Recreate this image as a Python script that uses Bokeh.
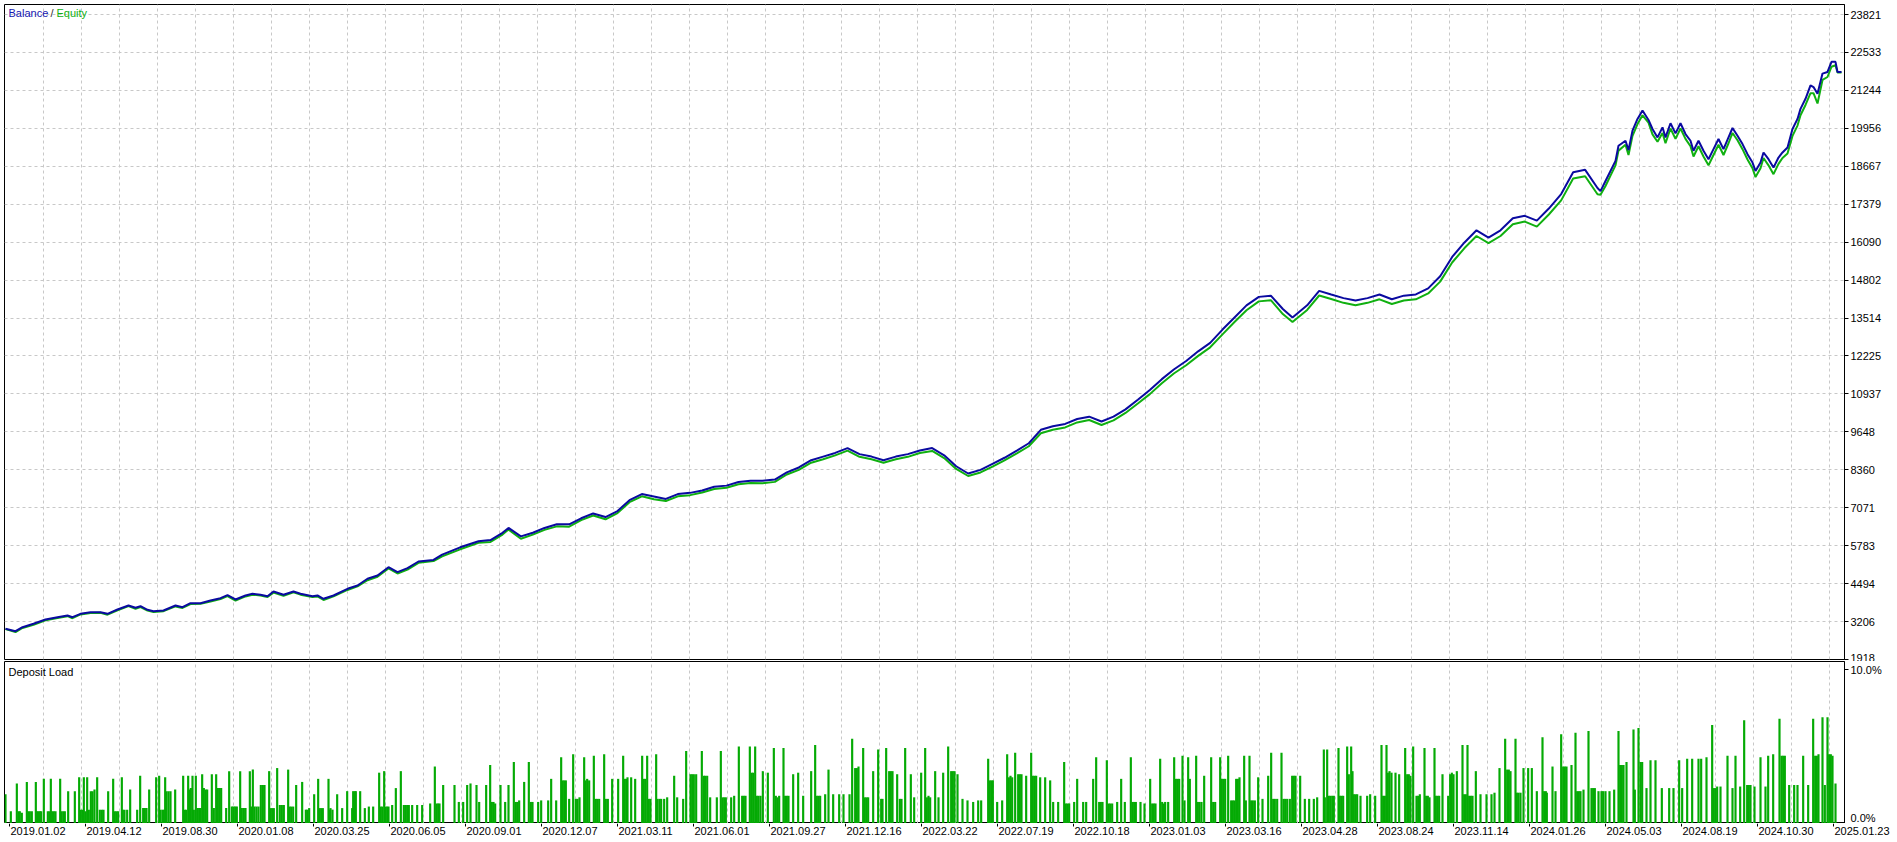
from bokeh.plotting import figure
from bokeh.models import Range1d, FixedTicker, Label
from bokeh.layouts import column
from bokeh.embed import file_html
from bokeh.resources import INLINE
from bokeh.core.properties import value

FONT = "Liberation Sans"

# ---------------- data ----------------
y_ticks = [1918, 3206, 4494, 5783, 7071, 8360, 9648, 10937, 12225, 13514,
           14802, 16090, 17379, 18667, 19956, 21244, 22533, 23821]

date_labels = ["2019.01.02", "2019.04.12", "2019.08.30", "2020.01.08", "2020.03.25",
               "2020.06.05", "2020.09.01", "2020.12.07", "2021.03.11", "2021.06.01",
               "2021.09.27", "2021.12.16", "2022.03.22", "2022.07.19", "2022.10.18",
               "2023.01.03", "2023.03.16", "2023.04.28", "2023.08.24", "2023.11.14",
               "2024.01.26", "2024.05.03", "2024.08.19", "2024.10.30", "2025.01.23"]

deal = [0, 30, 51, 84, 120, 156, 186, 201, 225, 255, 285, 306, 336, 369, 390, 405, 426, 444, 474, 510,
        531, 555, 585, 615, 645, 666, 690, 720, 741, 765, 786, 804, 834, 864, 885, 921, 936, 954, 984, 1026,
        1056, 1086, 1116, 1149, 1176, 1206, 1239, 1284,
        1310, 1364, 1419, 1455, 1491, 1509, 1546, 1582, 1617, 1654,
        1691, 1727, 1763, 1800, 1836, 1872, 1909, 1945, 1981, 2017,
        2054, 2090, 2126, 2163, 2199, 2235, 2271, 2308, 2344, 2380,
        2417, 2453, 2489, 2526, 2562, 2598, 2634, 2671, 2707, 2743,
        2780, 2816, 2852, 2888, 2925, 2961, 2997, 3034, 3070, 3106,
        3142, 3179, 3215, 3251, 3288, 3324, 3360, 3397, 3433, 3469,
        3505, 3542, 3578, 3614, 3651, 3687, 3723, 3760, 3796, 3832,
        3861, 3905, 3941, 3977, 4014, 4050, 4086, 4122, 4159, 4195,
        4231, 4268, 4304, 4340, 4377, 4413, 4449, 4485, 4522, 4558,
        4594, 4630, 4667, 4703, 4739, 4776,
        4785, 4800, 4815, 4830, 4839, 4860, 4869, 4881, 4896, 4911, 4929, 4941, 4956, 4971, 4980, 4995,
        5010, 5025, 5040, 5055, 5064, 5079, 5094, 5109, 5124, 5139, 5154, 5169, 5181, 5196, 5211, 5226,
        5241, 5250, 5265, 5274, 5289, 5304, 5319, 5331, 5346, 5361, 5376, 5385, 5400, 5415, 5424, 5436,
        5451, 5466, 5478, 5490, 5496, 5508]

balance = [2960, 2880, 3015, 3130, 3277, 3355, 3412, 3355, 3470, 3525, 3525, 3470, 3616, 3752, 3673, 3728,
           3605, 3558, 3582, 3752, 3694, 3830, 3830, 3922, 4000, 4102, 3956, 4092, 4150, 4115, 4068, 4227,
           4115, 4227, 4150, 4068, 4092, 3979, 4092, 4319, 4431, 4659, 4771, 5053, 4883, 5019, 5246, 5300,
           5479, 5728, 5934, 5975, 6221, 6386, 6098, 6221, 6386, 6509,
           6509, 6714, 6879, 6755, 6960, 7330, 7536, 7454, 7371, 7536,
           7577, 7659, 7782, 7823, 7947, 7988, 7988, 8029, 8275, 8440,
           8686, 8809, 8933, 9097, 8892, 8809, 8686, 8809, 8892, 9015,
           9097, 8851, 8481, 8234, 8358, 8563, 8769, 9015, 9262, 9718,
           9841, 9919, 10084, 10165, 10001, 10165, 10412, 10740, 11069, 11439,
           11768, 12055, 12384, 12671, 13123, 13534, 13945, 14233, 14274, 13822,
           13534, 13945, 14438, 14315, 14191, 14109, 14191, 14315, 14151, 14274,
           14315, 14520, 14931, 15589, 16082, 16493, 16246, 16493, 16904, 16986,
           16821, 17232, 17725, 18465, 18547, 17931,
           17825, 18167, 18509, 18851, 19364, 19535, 19215, 19877, 20276, 20561, 20242, 19934, 19649, 19991,
           19649, 20128, 19786, 20128, 19763, 19535, 19193, 19535, 19193, 18908, 19250, 19592, 19250, 19649,
           19968, 19706, 19421, 19079, 18794, 18509, 18794, 19136, 18908, 18623, 18965, 19136, 19307, 19934,
           20276, 20618, 20960, 21416, 21359, 21131, 21815, 21872, 22214, 22214, 21872, 21872]

equity = [2950, 2850, 2990, 3100, 3250, 3330, 3390, 3320, 3450, 3500, 3505, 3440, 3590, 3730, 3640, 3700,
          3580, 3530, 3560, 3720, 3670, 3800, 3810, 3890, 3970, 4070, 3920, 4060, 4120, 4090, 4040, 4190,
          4080, 4200, 4120, 4040, 4060, 3940, 4060, 4280, 4400, 4610, 4730, 5010, 4840, 4970, 5200, 5260,
          5420, 5660, 5880, 5910, 6160, 6330, 6020, 6160, 6320, 6440,
          6430, 6650, 6810, 6680, 6890, 7260, 7460, 7360, 7300, 7460,
          7500, 7590, 7710, 7750, 7870, 7910, 7900, 7950, 8200, 8360,
          8600, 8720, 8850, 9010, 8800, 8720, 8600, 8720, 8800, 8930,
          9000, 8760, 8390, 8150, 8270, 8470, 8680, 8920, 9160, 9600,
          9720, 9800, 9970, 10050, 9880, 10040, 10290, 10610, 10930, 11300,
          11630, 11910, 12230, 12520, 12960, 13380, 13780, 14080, 14120, 13650,
          13380, 13790, 14280, 14160, 14030, 13950, 14030, 14150, 13990, 14110,
          14150, 14350, 14750, 15400, 15890, 16300, 16060, 16300, 16700, 16790,
          16620, 17030, 17510, 18250, 18330, 17720,
          17700, 18000, 18350, 18700, 19200, 19400, 19050, 19700, 20100, 20400, 20150, 19750, 19500, 19800,
          19450, 19950, 19600, 19950, 19600, 19350, 19000, 19350, 19000, 18700, 19050, 19400, 19050, 19450,
          19800, 19550, 19250, 18900, 18600, 18300, 18600, 18950, 18700, 18400, 18750, 18950, 19100, 19700,
          20050, 20400, 20750, 21150, 21150, 20800, 21600, 21700, 22050, 22100, 21850, 21850]

load_deal = [0, 16, 34, 39, 43, 49, 64, 68, 73, 79, 91, 95, 99, 103, 107, 115, 127, 132, 136, 140, 145, 150,
             164, 167, 173, 178, 188, 208, 221, 225, 230, 235, 240, 245, 250, 256, 261, 267, 275, 283, 289,
             294, 308, 323, 328, 333, 338, 349, 352, 357, 365, 374, 395, 404, 413, 418, 423, 431, 452, 461,
             465, 471, 475, 479, 483, 489, 495, 509, 533, 538, 542, 548, 552, 556, 561, 565, 571, 576, 581,
             585, 590, 595, 600, 605, 619, 625, 632, 637, 642, 647, 662, 671, 679, 684, 689, 694, 704, 709,
             715, 720, 733, 737, 742, 747, 753, 759, 766, 772, 777, 791, 795, 800, 805, 815, 823, 829, 835,
             848, 852, 857, 863, 872, 890, 901, 906, 911, 926, 938, 942, 947, 952, 969, 971, 975, 981, 995,
             1010, 1025, 1040, 1043, 1048, 1051, 1064, 1078, 1090, 1103, 1121, 1125, 1130, 1136, 1140, 1145,
             1149, 1160, 1171, 1186, 1195, 1200, 1205, 1210, 1220, 1235, 1250, 1274, 1288, 1293, 1298, 1302,
             1313, 1347, 1360,
             1373, 1385, 1395, 1413, 1421, 1442, 1454, 1459, 1464, 1469, 1485, 1499, 1509, 1525, 1531, 1536,
             1541, 1556, 1570, 1576, 1581, 1598, 1607, 1628, 1637, 1652, 1667, 1671, 1676, 1681, 1691, 1703,
             1711, 1716, 1722, 1736, 1740, 1745, 1751, 1765, 1770, 1775, 1781, 1796, 1801, 1807, 1820, 1838,
             1853, 1857, 1862, 1866, 1877, 1889, 1910, 1914, 1919, 1925, 1930, 1935, 1952, 1956, 1962, 1967,
             1976, 1985, 2006, 2015, 2033, 2042, 2055, 2060, 2065, 2072, 2089, 2095, 2099, 2105, 2114, 2134,
             2146, 2151, 2156, 2161, 2177, 2186, 2200, 2210, 2215, 2220, 2233, 2238, 2243, 2249, 2254, 2259,
             2265, 2272, 2287, 2305, 2311, 2316, 2321, 2334, 2339, 2344, 2349, 2363, 2378, 2393, 2417, 2429,
             2434, 2439, 2444, 2459, 2469, 2483, 2501, 2514, 2532, 2540, 2549, 2554, 2559, 2573, 2578, 2583,
             2588, 2603, 2618, 2627, 2631, 2642, 2651, 2656, 2661, 2675, 2683, 2688, 2699, 2716, 2726,
             2747, 2759, 2764, 2769, 2774, 2789, 2799, 2813, 2828, 2837, 2842, 2847, 2856, 2871, 2886, 2903,
             2918, 2927, 2948, 2953, 2958, 2962, 2975, 2990, 3005, 3010, 3015, 3020, 3029, 3038, 3043, 3048,
             3062, 3077, 3082, 3087, 3092, 3104, 3119, 3134, 3143, 3158, 3176, 3181, 3186, 3191, 3206, 3215,
             3233, 3242, 3263, 3272, 3281, 3286, 3291, 3304, 3309, 3314, 3320, 3335, 3347, 3358, 3376, 3381,
             3386, 3391, 3405, 3417, 3434, 3440, 3445, 3450, 3464, 3470, 3475, 3479, 3488, 3506, 3511, 3516,
             3521, 3531, 3537, 3548, 3553, 3572, 3577, 3582, 3588, 3596, 3617, 3623, 3629, 3644, 3649, 3654,
             3659, 3668, 3677, 3682, 3687, 3692, 3697, 3702, 3716, 3721, 3732, 3737, 3742, 3748, 3758, 3771,
             3788, 3797, 3803, 3808, 3815, 3828, 3834, 3839, 3845, 3853, 3860, 3865, 3870, 3884, 3898, 3911,
             3925, 3935, 3955, 3958, 3965, 3969, 3974, 3980, 3985, 3999, 4003, 4008, 4013, 4025, 4030, 4037,
             4041, 4045, 4050, 4055, 4065, 4085, 4094, 4109,
             4128, 4133, 4138, 4143, 4147, 4152, 4158, 4170, 4181, 4199, 4205, 4210, 4215, 4223, 4233, 4238,
             4243, 4257, 4262, 4267, 4272, 4287, 4291, 4296, 4301, 4311, 4328, 4334, 4339, 4344, 4354, 4371,
             4376, 4381, 4386, 4391, 4396, 4401, 4411, 4425, 4443, 4458, 4467, 4482, 4499, 4505, 4510, 4515,
             4530, 4534, 4539, 4545, 4554, 4568, 4579, 4594, 4611, 4616, 4621, 4624, 4641, 4650, 4667, 4673,
             4678, 4683, 4698, 4710, 4715, 4720, 4725, 4734, 4749, 4758, 4763, 4768, 4779, 4788, 4793, 4800,
             4812, 4826, 4839, 4844, 4849, 4854, 4863, 4884, 4888, 4899, 4905, 4910, 4923, 4935, 4950, 4969,
             4991, 5004, 5021, 5030, 5045, 5060, 5079, 5087, 5103, 5120, 5125, 5130, 5135, 5145, 5166, 5181,
             5190, 5204, 5216, 5225, 5230, 5235, 5247, 5265, 5280, 5288, 5303, 5322, 5328, 5333, 5338, 5351,
             5366, 5376, 5393, 5408, 5423, 5429, 5434, 5439, 5451, 5458, 5466, 5471, 5476, 5481, 5490]

load_pct = [1.9, 0.8, 2.6, 0.8, 0.8, 0.7, 2.7, 0.8, 0.8, 0.8, 2.7, 0.8, 0.8, 0.8, 0.8, 2.9, 0.8, 0.8, 2.9,
            0.8, 0.8, 0.8, 2.9, 0.8, 0.8, 0.8, 2.1, 2.1, 3.0, 0.9, 0.9, 3.0, 0.8, 3.0, 0.9, 2.1, 2.1, 2.2,
            3.0, 0.9, 0.9, 0.9, 2.1, 2.9, 0.8, 0.8, 0.8, 3.0, 0.9, 0.9, 0.9, 2.2, 0.9, 3.1, 1.0, 1.0, 1.0,
            2.2, 3.0, 3.1, 0.9, 0.9, 0.9, 3.0, 2.1, 2.1, 2.1, 2.2, 3.1, 0.9, 0.9, 3.1, 2.2, 2.3, 3.1, 0.9,
            3.1, 1.0, 1.0, 1.0, 3.2, 2.3, 2.2, 2.2, 3.2, 1.0, 3.2, 2.3, 2.3, 2.3, 1.0, 3.4, 1.1, 1.1, 1.1,
            1.1, 3.4, 1.0, 1.0, 1.0, 3.4, 1.1, 3.5, 1.1, 1.1, 1.1, 2.5, 2.5, 2.5, 3.4, 1.0, 1.0, 1.0, 3.6,
            1.2, 1.2, 1.2, 3.5, 1.1, 1.1, 1.1, 2.5, 2.7, 0.9, 0.9, 1.0, 1.9, 2.9, 1.0, 1.0, 1.0, 2.9, 0.9,
            1.0, 0.9, 1.9, 1.0, 2.1, 1.0, 2.1, 2.1, 2.1, 2.1, 1.0, 1.1, 1.1, 3.3, 1.1, 1.1, 3.4, 1.1, 1.1,
            1.1, 1.2, 2.3, 3.4, 1.2, 1.2, 1.2, 1.2, 1.2, 1.2, 1.2, 1.3, 3.7, 1.3, 1.3, 1.3, 2.5, 2.5, 1.4,
            1.4, 2.5, 2.6, 2.5, 1.4, 2.5, 3.8, 1.4, 1.4, 1.3, 2.5, 1.4, 2.5, 4.0, 1.4, 1.4, 1.5, 2.7, 4.0,
            1.4, 1.4, 1.4, 1.5, 1.5, 2.9, 1.5, 4.3, 2.8, 2.8, 2.8, 1.6, 4.5, 1.6, 1.6, 1.7, 4.3, 2.8, 2.9,
            2.8, 4.4, 1.6, 1.6, 1.6, 4.5, 1.6, 1.6, 2.9, 2.9, 4.4, 2.9, 2.9, 3.0, 3.0, 2.9, 4.4, 2.9, 2.9,
            4.4, 1.6, 1.6, 4.5, 1.6, 1.6, 1.6, 1.6, 1.7, 3.1, 1.7, 1.6, 4.7, 3.2, 3.2, 3.2, 3.2, 4.7, 3.1,
            3.1, 3.1, 1.7, 1.7, 4.7, 1.7, 1.7, 1.7, 1.7, 1.8, 5.0, 1.8, 1.8, 1.8, 5.0, 3.3, 3.3, 5.0, 1.8,
            1.8, 1.8, 3.4, 3.3, 4.9, 1.8, 1.7, 1.8, 4.9, 1.8, 1.8, 1.8, 3.2, 3.3, 1.8, 3.4, 5.1, 1.8, 1.8,
            1.8, 1.9, 3.5, 1.9, 1.9, 1.9, 1.9, 5.5, 3.6, 3.6, 3.7, 4.9, 1.7, 1.7, 1.7, 3.4, 4.8, 1.6, 1.6,
            4.9, 3.4, 3.4, 3.4, 3.2, 1.6, 1.6, 4.9, 3.2, 1.7,
            3.3, 4.9, 1.7, 1.8, 1.7, 3.4, 1.7, 3.3, 5.0, 3.4, 3.4, 3.4, 3.2, 1.6, 1.5, 1.4, 1.5, 1.5, 4.2,
            2.8, 2.8, 2.8, 1.4, 1.5, 4.5, 3.0, 3.1, 3.0, 4.6, 3.2, 3.2, 3.2, 3.1, 4.6, 3.1, 3.1, 3.1, 3.0,
            3.0, 2.8, 1.4, 1.4, 4.0, 1.3, 1.3, 1.3, 1.4, 2.9, 1.4, 1.4, 2.9, 4.3, 1.4, 1.4, 1.4, 4.1, 1.3,
            1.3, 1.3, 1.4, 2.9, 1.4, 4.3, 1.4, 1.4, 1.4, 1.4, 1.3, 2.9, 1.3, 1.3, 1.3, 4.2, 1.4, 1.3, 1.4,
            1.4, 4.3, 2.9, 2.9, 2.9, 4.4, 1.5, 4.3, 2.9, 4.4, 1.4, 1.4, 1.4, 3.1, 4.3, 1.4, 1.4, 4.3, 2.9,
            2.9, 2.9, 4.4, 1.5, 1.5, 1.5, 2.9, 2.9, 3.0, 4.4, 1.5, 4.4, 1.5, 1.5, 1.5, 3.0, 1.6, 3.1, 4.6,
            1.6, 1.6, 1.6, 4.6, 1.6, 1.6, 1.6, 1.6, 3.1, 3.1, 3.1, 3.1, 1.6, 1.6, 1.6, 1.7, 4.8, 1.7, 4.8,
            1.8, 1.8, 1.8, 1.8, 4.9, 1.8, 1.8, 1.8, 5.0, 3.2, 5.0, 3.4, 1.9, 1.9, 1.9, 1.8, 1.8, 1.9, 1.8,
            5.1, 1.8, 1.8, 5.1, 3.3, 3.4, 3.3, 3.3, 3.2, 4.9, 3.2, 3.2, 3.1, 5.0, 1.8, 1.8, 1.9, 4.9, 1.8,
            1.8, 1.7, 4.9, 1.8, 1.8, 1.8, 3.2, 1.8, 3.2, 3.3, 3.2, 3.4, 5.1, 1.9, 1.9, 5.1, 1.8, 1.8, 1.8,
            3.4, 1.9, 1.9, 1.9, 2.0, 3.6, 5.5, 3.5, 3.5, 3.4, 5.5, 2.0, 2.0, 2.0, 3.6, 3.6, 3.6, 2.1, 5.6,
            2.1, 2.1, 2.0, 3.7, 2.1, 5.8, 3.7, 3.7, 3.7, 3.8, 5.9, 2.1, 2.1, 2.1, 2.2, 6.0, 2.3, 2.3, 2.3,
            2.1, 2.1, 2.1, 2.1, 2.1, 2.2, 6.0, 3.8, 3.8, 3.8, 4.0, 6.1, 2.2, 6.2, 4.0, 4.0, 2.3, 4.1, 4.1,
            2.3, 2.3, 2.3, 4.1, 2.3, 4.2, 4.2, 4.2, 4.2, 4.3, 6.4, 2.3, 2.3, 2.4, 2.4, 4.4, 2.3, 4.4, 2.4,
            6.7, 2.5, 2.5, 2.5, 2.4, 4.3, 2.4, 4.4, 4.5, 6.8, 4.4, 4.4, 4.4, 2.5, 2.5, 2.5, 4.4, 2.5, 6.8,
            4.4, 4.4, 4.5, 6.9, 2.5, 6.9, 4.5, 4.5, 4.4, 2.6]

# ---------------- styling / layout constants ----------------
X0, X1 = -3, 5517          # deal-number range shown in the panels
FRAME_W = 1840
LEFT_PAD = 4
UNITS_PER_PX = (X1 - X0) / FRAME_W
LABEL_STEP = 228
GRID_STEP = 114
label_ticks = [i * LABEL_STEP for i in range(len(date_labels))]
grid_ticks = [i * GRID_STEP for i in range(1, 49)]
GRID_COLOR = "#C8C8C8"
BLUE = "#0A0AA0"
GREEN = "#10B010"
BAR_GREEN = "#04AA04"

common = dict(output_backend="svg", toolbar_location=None, frame_width=FRAME_W,
              min_border_left=LEFT_PAD, min_border_right=40, y_axis_location="right")


def style_right_axis(ax):
    ax.axis_line_color = "black"
    ax.major_tick_out = 4
    ax.major_tick_in = 0
    ax.minor_tick_line_color = None
    ax.major_label_standoff = 2
    ax.major_label_text_font = FONT
    ax.major_label_text_font_size = "11px"
    ax.major_label_text_color = "black"


# ---------------- top panel ----------------
P1_H = 655
p1 = figure(frame_height=P1_H, x_range=Range1d(X0, X1), y_range=Range1d(1918, 24162),
            x_axis_location=None, min_border_top=4, min_border_bottom=2, **common)
p1.outline_line_color = "black"
p1.background_fill_color = "white"
p1.border_fill_color = "white"

p1.yaxis.ticker = FixedTicker(ticks=y_ticks)
p1.yaxis.major_label_overrides = {v: str(v) for v in y_ticks}
p1.ygrid.ticker = FixedTicker(ticks=y_ticks)
p1.xgrid.ticker = FixedTicker(ticks=grid_ticks)
for g in (p1.xgrid, p1.ygrid):
    g.grid_line_color = GRID_COLOR
    g.grid_line_dash = "3 3"
style_right_axis(p1.yaxis[0])

p1.line(deal, equity, line_color=GREEN, line_width=2)
p1.line(deal, balance, line_color=BLUE, line_width=2)

top_y = P1_H - 8
p1.add_layout(Label(x=4, y=top_y, x_units="screen", y_units="screen", text="Balance",
                    text_font=FONT, text_font_size="11px", text_color="#1515B0", text_baseline="middle"))
p1.add_layout(Label(x=46, y=top_y, x_units="screen", y_units="screen", text="/",
                    text_font=FONT, text_font_size="11px", text_color="#303030", text_baseline="middle"))
p1.add_layout(Label(x=52, y=top_y, x_units="screen", y_units="screen", text="Equity",
                    text_font=FONT, text_font_size="11px", text_color=GREEN, text_baseline="middle"))

# ---------------- bottom panel ----------------
P2_H = 162
p2 = figure(frame_height=P2_H, x_range=p1.x_range, y_range=Range1d(0, 10.52),
            x_axis_location=None, min_border_top=0, min_border_bottom=0, **common)
p2.outline_line_color = "black"
p2.background_fill_color = "white"
p2.border_fill_color = "white"

p2.yaxis.ticker = FixedTicker(ticks=[0, 10])
p2.yaxis.major_label_overrides = {0: "0.0%", 10: "10.0%"}
style_right_axis(p2.yaxis[0])

p2.ygrid.visible = False
p2.xgrid.ticker = FixedTicker(ticks=grid_ticks)
p2.xgrid.grid_line_color = GRID_COLOR
p2.xgrid.grid_line_dash = "3 3"

p2.vbar(x=load_deal, top=load_pct, width=6.5, bottom=0, fill_color=BAR_GREEN, line_color=None)

p2.add_layout(Label(x=4, y=P2_H - 10, x_units="screen", y_units="screen", text="Deposit Load",
                    text_font=FONT, text_font_size="11px", text_color="black", text_baseline="middle"))

# ---------------- date axis strip ----------------
P3_W = 1890
P3_H = 19
x3_start = X0 - LEFT_PAD * UNITS_PER_PX
p3 = figure(frame_width=P3_W, frame_height=P3_H,
            x_range=Range1d(x3_start, x3_start + P3_W * UNITS_PER_PX), y_range=Range1d(0, P3_H),
            output_backend="svg", toolbar_location=None, min_border=0,
            x_axis_location=None, y_axis_location=None)
p3.outline_line_color = None
p3.xgrid.visible = False
p3.ygrid.visible = False
p3.background_fill_color = "white"
p3.border_fill_color = "white"
p3.segment(x0=label_ticks, y0=[P3_H] * len(label_ticks), x1=label_ticks, y1=[P3_H - 3] * len(label_ticks),
           line_color="black", line_width=1)
p3.text(x=label_ticks, y=[P3_H - 3] * len(label_ticks), text=date_labels, x_offset=1,
        text_font=value(FONT), text_font_size="11px", text_color="black",
        text_align="left", text_baseline="top")

layout = column(p1, p2, p3, spacing=0)
open("out.html", "w").write(file_html(layout, INLINE))
